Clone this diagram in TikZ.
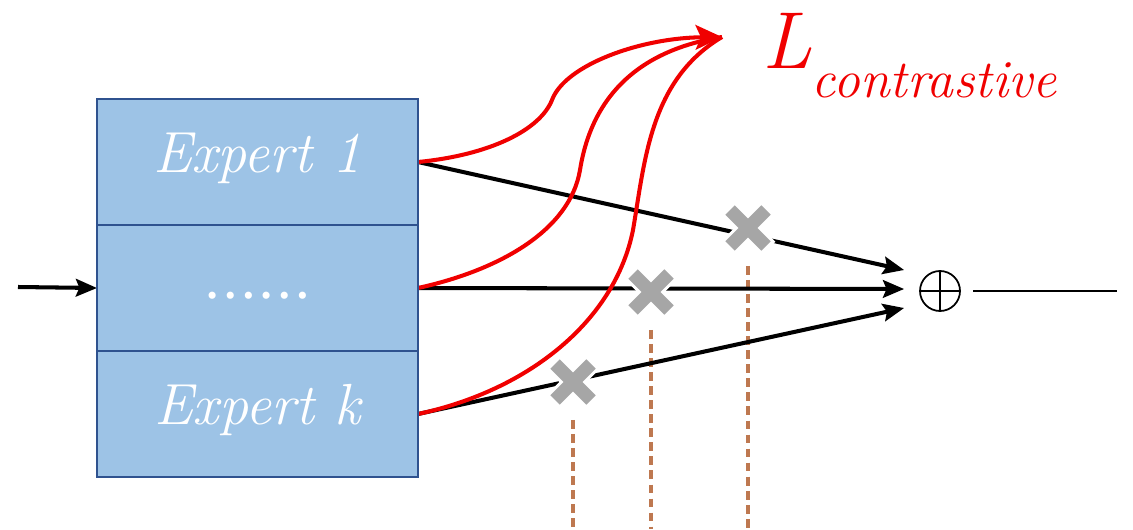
\documentclass[tikz,border=0pt]{standalone}
\usepackage{fontspec}
\newfontfamily\dotfont{DejaVu Serif}
\usetikzlibrary{arrows.meta, positioning, backgrounds}
\definecolor{expertFill}{RGB}{157,195,230}
\definecolor{expertEdge}{RGB}{47,82,143}
\definecolor{dropGray}{RGB}{166,166,166}
\definecolor{dropLine}{RGB}{190,120,80}
\definecolor{lossRed}{RGB}{240,0,0}
\tikzset{
  moe/expert/.style={rectangle, draw=expertEdge, fill=expertFill, line width=1.3pt,
    minimum width=6.42cm, minimum height=2.52cm, outer sep=0pt, inner sep=0pt,
    font=\fontsize{33}{38}\selectfont\itshape, text=white,
    text height=1.2em, text depth=0.05em},
  moe/arr/.style={-{Stealth[length=12pt,width=10pt,inset=2pt]}, line width=2.3pt,
    draw=black},
  moe/loss/.style={line width=2.3pt, draw=lossRed},
  moe/sum/.style={circle, draw, line width=1pt, minimum size=0.8cm, inner sep=0pt,
    path picture={\draw[line width=1pt]
      (path picture bounding box.north) -- (path picture bounding box.south)
      (path picture bounding box.west) -- (path picture bounding box.east);}},
  moe/drop/.style={minimum size=1.5cm, inner sep=0pt, path picture={
    \foreach \c/\w/\d in {white/11pt/0.41, dropGray/7.6pt/0.36}{
      \draw[\c, line width=\w]
        ([shift={(-\d,-\d)}]path picture bounding box.center) --
        ([shift={(\d,\d)}]path picture bounding box.center)
        ([shift={(-\d,\d)}]path picture bounding box.center) --
        ([shift={(\d,-\d)}]path picture bounding box.center);}}},
  moe/dash/.style={draw=dropLine, line width=2pt, dash pattern=on 5pt off 3pt}
}

\begin{document}
\begin{tikzpicture}
  \useasboundingbox (0,0) rectangle (22.66,10.58);

  % experts
  \node[moe/expert] (e1) at (5.15,7.34) {Expert 1};
  \node[moe/expert, below=0pt of e1] (e2)
    {{\dotfont\upshape\fontsize{31}{34}\selectfont ……}};
  \node[moe/expert, below=0pt of e2] (e3) {Expert k};

  \node[moe/sum] (sum) at (18.8,4.76) {};
  \coordinate (in) at (0.36,4.84);
  \coordinate (out) at (22.34,4.76);
  \coordinate (loss) at (14.44,9.84);

  \node[anchor=base west, inner sep=0pt, text=lossRed,
    font=\fontsize{46}{50}\selectfont\itshape] (lbl) at (15.24,9.22)
    {L\raisebox{-17pt}{\fontsize{30.5}{32}\selectfont contrastive}};

  % dropped experts
  \node[moe/drop] (d1) at (14.96,6.02) {};
  \node[moe/drop] (d2) at (13.02,4.74) {};
  \node[moe/drop] (d3) at (11.46,2.94) {};

  \begin{scope}[on background layer]
    \foreach \n in {d1,d2,d3}
      \draw[moe/dash] (\n.south) -- (\n |- 0,0);

    \draw[moe/arr] (in) -- (e2.west);
    \draw[moe/arr] (e1.east) -- ([shift={(-0.3,0.42)}]sum.west);
    \draw[moe/arr] (e2.east) -- ([shift={(-0.3,0.04)}]sum.west);
    \draw[moe/arr] (e3.east) -- ([shift={(-0.3,-0.34)}]sum.west);
    \draw[line width=1.6pt] ([xshift=7pt]sum.east) -- (out);

    % contrastive loss
    \draw[moe/loss, -{Stealth[length=15pt,width=14pt,inset=3pt]}] (e1.east)
      .. controls (9.8,7.48) and (10.8,7.98) .. (11.04,8.58)
      .. controls (11.3,9.28) and (12.8,9.82) .. (loss);
    \draw[moe/loss] (e2.east)
      .. controls (10.0,5.18) and (11.4,5.98) .. (11.6,7.18)
      .. controls (11.84,8.68) and (12.8,9.58) .. (loss);
    \draw[moe/loss] (e3.east)
      .. controls (10.6,2.78) and (12.3,4.18) .. (12.66,5.98)
      .. controls (12.9,7.38) and (13.0,8.98) .. (loss);
  \end{scope}
\end{tikzpicture}
\end{document}
